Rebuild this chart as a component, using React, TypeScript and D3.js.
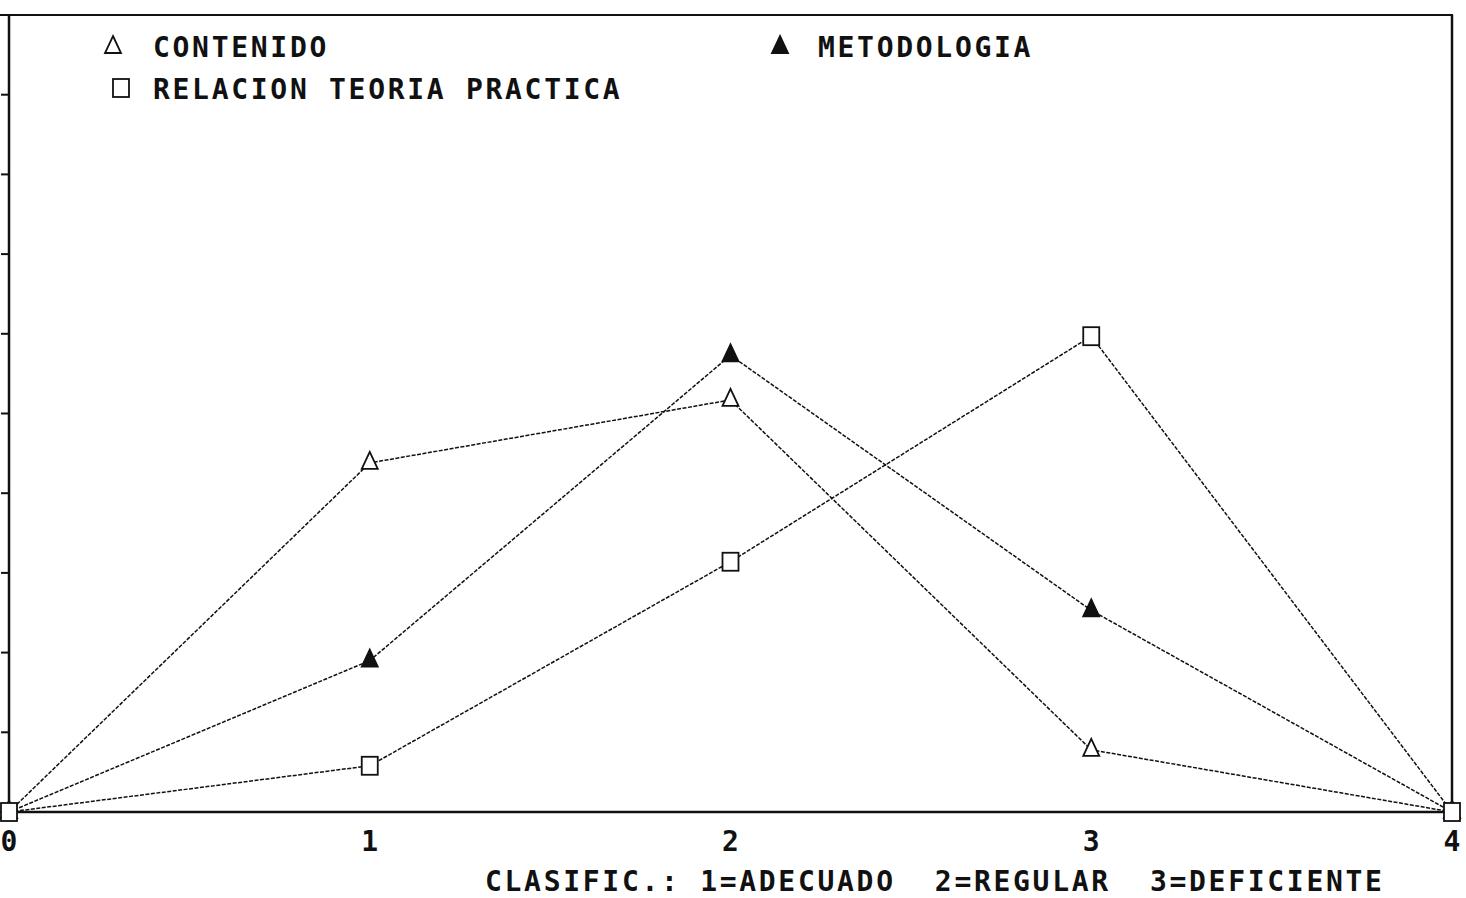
import React from 'react'
import * as d3 from 'd3'

// clasificacion 0..4 on the x axis, percentage on the y axis
const categories = [0, 1, 2, 3, 4]
const xTickLabels = ['0', '1', '2', '3', '4']
const yTicks = [0, 10, 20, 30, 40, 50, 60, 70, 80, 90, 100]

const contenido = [0, 43.8, 51.7, 7.8, 0]
const metodologia = [0, 19.0, 57.3, 25.3, 0]
const relacion = [0, 5.8, 31.4, 59.7, 0]

const seriesNames = ['CONTENIDO', 'METODOLOGIA', 'RELACION TEORIA PRACTICA']
const caption = 'CLASIFIC.: 1=ADECUADO  2=REGULAR  3=DEFICIENTE'

const W = 1466
const H = 898
const FONT = '"DejaVu Sans Mono", "Liberation Mono", monospace'

const Triangle = ({ x, y, filled }: { x: number; y: number; filled: boolean }) => (
  <path
    d={`M${x},${y - 11} L${x + 8},${y + 6} L${x - 8},${y + 6} Z`}
    fill={filled ? '#111' : '#fff'}
    stroke="#111"
    strokeWidth={1.8}
  />
)

const Square = ({ x, y }: { x: number; y: number }) => (
  <rect x={x - 8} y={y - 9} width={16} height={18} fill="#fff" stroke="#111" strokeWidth={1.8} />
)

const App = () => {
  const left = 9
  const right = 1452
  const top = 15
  const bottom = 812

  const x = d3.scaleLinear().domain([0, 4]).range([left, right])
  const y = d3.scaleLinear().domain([0, 100]).range([bottom, top])

  const line = d3.line<number>()
    .x((d, i) => x(categories[i]))
    .y(d => y(d))

  const series = [
    { name: seriesNames[0], values: contenido, kind: 'open' },
    { name: seriesNames[1], values: metodologia, kind: 'filled' },
    { name: seriesNames[2], values: relacion, kind: 'square' },
  ]

  const textStyle = { fontFamily: FONT, fontWeight: 700, fontSize: 28, letterSpacing: 2.7, fill: '#111' }

  return (
    <svg width={W} height={H} style={{ position: 'absolute', left: 0, top: 0, background: '#fff' }}>
      {/* frame */}
      <line x1={0} x2={right + 1} y1={top} y2={top} stroke="#111" strokeWidth={2} />
      <line x1={left} x2={left} y1={top} y2={bottom} stroke="#111" strokeWidth={2.5} />
      <line x1={right} x2={right} y1={top} y2={bottom} stroke="#111" strokeWidth={2.5} />
      <line x1={0} x2={right + 1} y1={bottom} y2={bottom} stroke="#111" strokeWidth={2.5} />

      {/* y ticks, no labels */}
      {yTicks.slice(1, -1).map(t => (
        <line key={t} x1={left - 8} x2={left} y1={y(t)} y2={y(t)} stroke="#111" strokeWidth={2} />
      ))}

      {/* series lines */}
      {series.map(s => (
        <path
          key={s.name}
          d={line(s.values) || ''}
          fill="none"
          stroke="#111"
          strokeWidth={1.5}
          strokeDasharray="4,1.5"
        />
      ))}

      {/* markers */}
      {series.map(s =>
        s.values.map((v, i) =>
          s.kind === 'square'
            ? <Square key={s.name + i} x={x(categories[i])} y={y(v)} />
            : <Triangle key={s.name + i} x={x(categories[i])} y={y(v)} filled={s.kind === 'filled'} />
        )
      )}

      {/* x tick labels */}
      {categories.map((c, i) => (
        <text key={c} x={x(c)} y={851} textAnchor="middle" {...textStyle} letterSpacing={0}>
          {xTickLabels[i]}
        </text>
      ))}

      {/* legend */}
      <Triangle x={113} y={47} filled={false} />
      <text x={153} y={57} {...textStyle}>{seriesNames[0]}</text>
      <Triangle x={780} y={47} filled={true} />
      <text x={818} y={57} {...textStyle}>{seriesNames[1]}</text>
      <Square x={121} y={88} />
      <text x={153} y={99} {...textStyle}>{seriesNames[2]}</text>

      {/* caption */}
      <text x={485} y={891} {...textStyle} style={{ whiteSpace: 'pre' }}>{caption}</text>
    </svg>
  )
}

export default App
